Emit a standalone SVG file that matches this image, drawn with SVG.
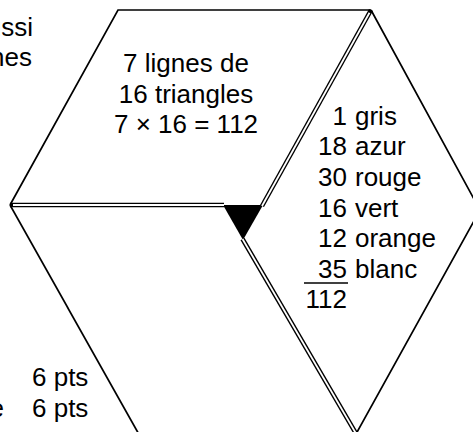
<svg xmlns="http://www.w3.org/2000/svg" width="473" height="432" viewBox="0 0 473 432">
<style>
.t{font-family:"Liberation Sans",Arial,sans-serif;font-size:26px;fill:#000}
.s{fill:none;stroke:#000;stroke-width:1.7;stroke-linejoin:miter}
.dO{fill:none;stroke:#000;stroke-width:4.6;stroke-linecap:butt}
.dI{fill:none;stroke:#fff;stroke-width:1.8;stroke-linecap:butt}
</style>
<rect width="473" height="432" fill="#fff"/>
<g id="left-text">
<text class="t" x="33" y="36" text-anchor="end">ussi</text>
<text class="t" x="32" y="66" text-anchor="end">nes</text>
<text class="t" x="32" y="386">6 pts</text>
<text class="t" x="4" y="417" text-anchor="end">e</text>
<text class="t" x="32" y="417">6 pts</text>
</g>
<g id="top-face">
<polyline class="s" points="10,205 118,10 371,10"/>
<text class="t" x="186" y="72" text-anchor="middle">7 lignes de</text>
<text class="t" x="186" y="103" text-anchor="middle">16 triangles</text>
<text class="t" x="186" y="133" text-anchor="middle">7 × 16 = 112</text>
</g>
<g id="right-face">
<polyline class="s" points="371,10 480,210 356,434"/>
<text class="t" y="125"><tspan x="347" text-anchor="end">1</tspan><tspan x="355">gris</tspan></text>
<text class="t" y="155"><tspan x="347" text-anchor="end">18</tspan><tspan x="355">azur</tspan></text>
<text class="t" y="186"><tspan x="347" text-anchor="end">30</tspan><tspan x="355">rouge</tspan></text>
<text class="t" y="217"><tspan x="347" text-anchor="end">16</tspan><tspan x="355">vert</tspan></text>
<text class="t" y="247"><tspan x="347" text-anchor="end">12</tspan><tspan x="355">orange</tspan></text>
<text class="t" y="278"><tspan x="347" text-anchor="end">35</tspan><tspan x="355">blanc</tspan></text>
<line x1="304" y1="283" x2="348" y2="283" stroke="#000" stroke-width="1.5"/>
<text class="t" x="347" y="308" text-anchor="end">112</text>
</g>
<g id="bottom-face">
<line class="s" x1="10" y1="205" x2="141" y2="438"/>
</g>
<g id="center-triangle">
<polygon points="223,205 263,205 243,240" fill="#000"/>
</g>
<g id="connectors">
<line class="dO" x1="10" y1="205" x2="224" y2="205"/>
<line class="dI" x1="13" y1="205" x2="224" y2="205"/>
<line class="dO" x1="262" y1="206" x2="371" y2="10"/>
<line class="dI" x1="262" y1="206" x2="369.5" y2="12.7"/>
<line class="dO" x1="242.5" y1="239" x2="358" y2="437"/>
<line class="dI" x1="242.5" y1="239" x2="358" y2="437"/>
</g>
</svg>
